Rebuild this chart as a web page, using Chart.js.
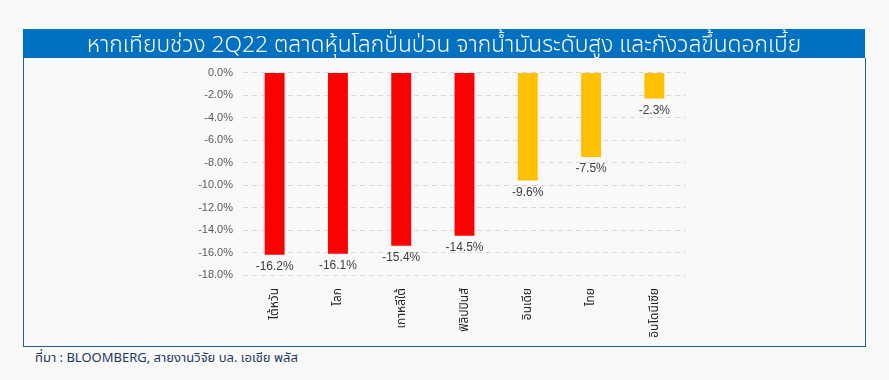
<!DOCTYPE html>
<html><head><meta charset="utf-8">
<script src="https://cdn.jsdelivr.net/npm/chart.js@4.4.1/dist/chart.umd.min.js"></script>
<style>
html,body{margin:0;padding:0;background:#f9f9f9;width:889px;height:380px;overflow:hidden;font-family:"Noto Sans","Noto Sans Thai",sans-serif;}
#hdr{position:absolute;left:23px;top:29px;width:842px;height:29px;background:#0070c0;color:#fff;text-align:center;font-size:22.8px;font-weight:300;line-height:29px;white-space:nowrap;z-index:2;}
#box{position:absolute;left:23px;top:58px;width:841px;height:288px;border:1px solid #1f5f8f;border-top:none;background:#f9f9f9;}
#wrap{position:absolute;left:0;top:-2px;width:841px;height:290px;}
#src{position:absolute;left:35px;top:348px;font-size:13px;color:#1f3864;white-space:nowrap;}
</style></head><body>
<div id="hdr">หากเทียบช่วง 2Q22 ตลาดหุ้นโลกปั่นป่วน จากน้ำมันระดับสูง และกังวลขึ้นดอกเบี้ย</div>
<div id="box"><div id="wrap"><canvas id="c"></canvas></div></div>
<div id="src">ที่มา : BLOOMBERG, สายงานวิจัย บล. เอเชีย พลัส</div>
<script>
const categories = ["ไต้หวัน","โลก","เกาหลีใต้","ฟิลิปปินส์","อินเดีย","ไทย","อินโดนีเซีย"];
const values = [-16.2,-16.1,-15.4,-14.5,-9.6,-7.5,-2.3];
const barColors = ["#ff0000","#ff0000","#ff0000","#ff0000","#ffc000","#ffc000","#ffc000"];

const labelPlugin = {
  id:'barLabels',
  afterDatasetsDraw(chart){
    const ctx = chart.ctx;
    const meta = chart.getDatasetMeta(0);
    ctx.save();
    ctx.font = '12px "Liberation Sans", "DejaVu Sans", sans-serif';
    ctx.fillStyle = '#404040';
    ctx.textAlign = 'center';
    ctx.textBaseline = 'top';
    meta.data.forEach((bar,i)=>{
      ctx.fillText(values[i].toFixed(1)+'%', bar.x, bar.y+6);
    });
    ctx.restore();
  }
};

new Chart(document.getElementById('c'),{
  type:'bar',
  data:{labels:categories,datasets:[{data:values,backgroundColor:barColors,borderWidth:0,categoryPercentage:1,barPercentage:0.315}]},
  options:{
    responsive:true,maintainAspectRatio:false,animation:false,
    layout:{padding:{left:0,right:179,top:12,bottom:0}},
    plugins:{legend:{display:false},tooltip:{enabled:false}},
    scales:{
      x:{
        grid:{display:false},border:{display:false},
        ticks:{minRotation:90,maxRotation:90,autoSkip:false,color:'#262626',padding:5,
          font:{size:12,family:'"Noto Sans", "Noto Sans Thai", sans-serif'}},
        afterFit(s){s.height=71;}
      },
      y:{
        min:-18,max:0,
        ticks:{stepSize:2,color:'#595959',padding:10,font:{size:11,family:'"Liberation Sans", sans-serif'},
          callback:v=>v.toFixed(1)+'%'},
        grid:{color:'#d9d9d9',lineWidth:1,drawTicks:false},
        border:{display:false,dash:[5,4]},
        afterFit(s){s.width=219;}
      }
    }
  },
  plugins:[labelPlugin]
});
</script>
</body></html>
